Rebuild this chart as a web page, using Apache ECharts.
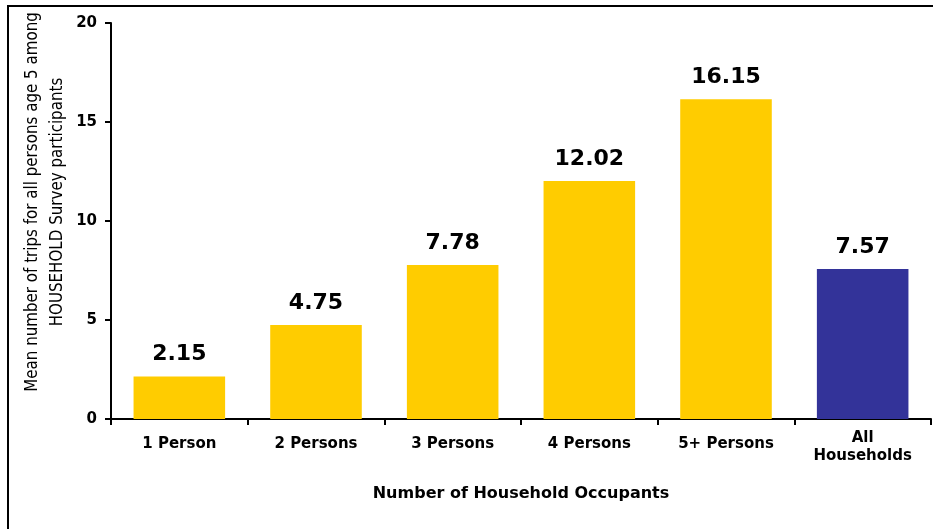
<!DOCTYPE html>
<html><head><meta charset="utf-8">
<script src="https://cdn.jsdelivr.net/npm/echarts@6/dist/echarts.min.js"></script>
<style>html,body{margin:0;padding:0;background:#fff}#c{width:933px;height:529px}</style>
</head><body><div id="c"></div>
<script>
const categories = ['1 Person', '2 Persons', '3 Persons', '4 Persons', '5+ Persons', 'All\nHouseholds'];
const values = [2.15, 4.75, 7.78, 12.02, 16.15, 7.57];
const barColors = ['#FFCC00', '#FFCC00', '#FFCC00', '#FFCC00', '#FFCC00', '#333399'];
const yTicks = [0, 5, 10, 15, 20];
const yName = 'Mean number of trips for all persons age 5 among\nHOUSEHOLD Survey participants';
const xName = 'Number of Household Occupants';

const chart = echarts.init(document.getElementById('c'), null, {renderer: 'canvas'});
chart.setOption({
  animation: false,
  graphic: [{type: 'rect', shape: {x: 8, y: 6, width: 1000, height: 600}, style: {fill: 'none', stroke: '#000', lineWidth: 2}, silent: true}],
  grid: {left: 111, right: 2, top: 23, bottom: 110},
  xAxis: {
    type: 'category', data: categories,
    axisLine: {lineStyle: {color: '#000', width: 2}},
    axisTick: {show: true, length: 6, interval: 0, lineStyle: {color: '#000', width: 2}},
    axisLabel: {interval: 0, hideOverlap: false, color: '#000', fontFamily: 'DejaVu Sans', fontWeight: 'bold', fontSize: 15, margin: 10, lineHeight: 18,
      formatter: v => v.indexOf('\n') >= 0 ? v : '{s|' + v + '}',
      rich: {s: {color: '#000', fontFamily: 'DejaVu Sans', fontWeight: 'bold', fontSize: 15, lineHeight: 30}}},
    name: xName, nameLocation: 'middle', nameGap: 67,
    nameTextStyle: {color: '#000', fontFamily: 'DejaVu Sans', fontWeight: 'bold', fontSize: 16}
  },
  yAxis: {
    type: 'value', min: yTicks[0], max: yTicks[yTicks.length - 1], interval: 5,
    axisLine: {show: true, lineStyle: {color: '#000', width: 2}},
    axisTick: {show: true, length: 6, lineStyle: {color: '#000', width: 2}},
    splitLine: {show: false},
    axisLabel: {color: '#000', fontFamily: 'DejaVu Sans', fontWeight: 'bold', fontSize: 15, margin: 14},
    name: yName, nameLocation: 'middle', nameGap: 41, nameRotate: 90, nameMoveOverlap: false,
    nameTextStyle: {color: '#000', fontFamily: '"Liberation Sans Narrow", "DejaVu Sans Condensed", sans-serif', fontSize: 16.8, lineHeight: 25, padding: [0, 0, 0, 38]}
  },
  series: [{
    type: 'bar', barCategoryGap: '33%',
    data: values.map((v, i) => ({value: v, itemStyle: {color: barColors[i]}})),
    label: {show: true, position: 'top', distance: 11, color: '#000', fontFamily: 'DejaVu Sans', fontWeight: 'bold', fontSize: 22,
      formatter: p => p.value.toFixed(2)}
  }]
});
</script></body></html>
